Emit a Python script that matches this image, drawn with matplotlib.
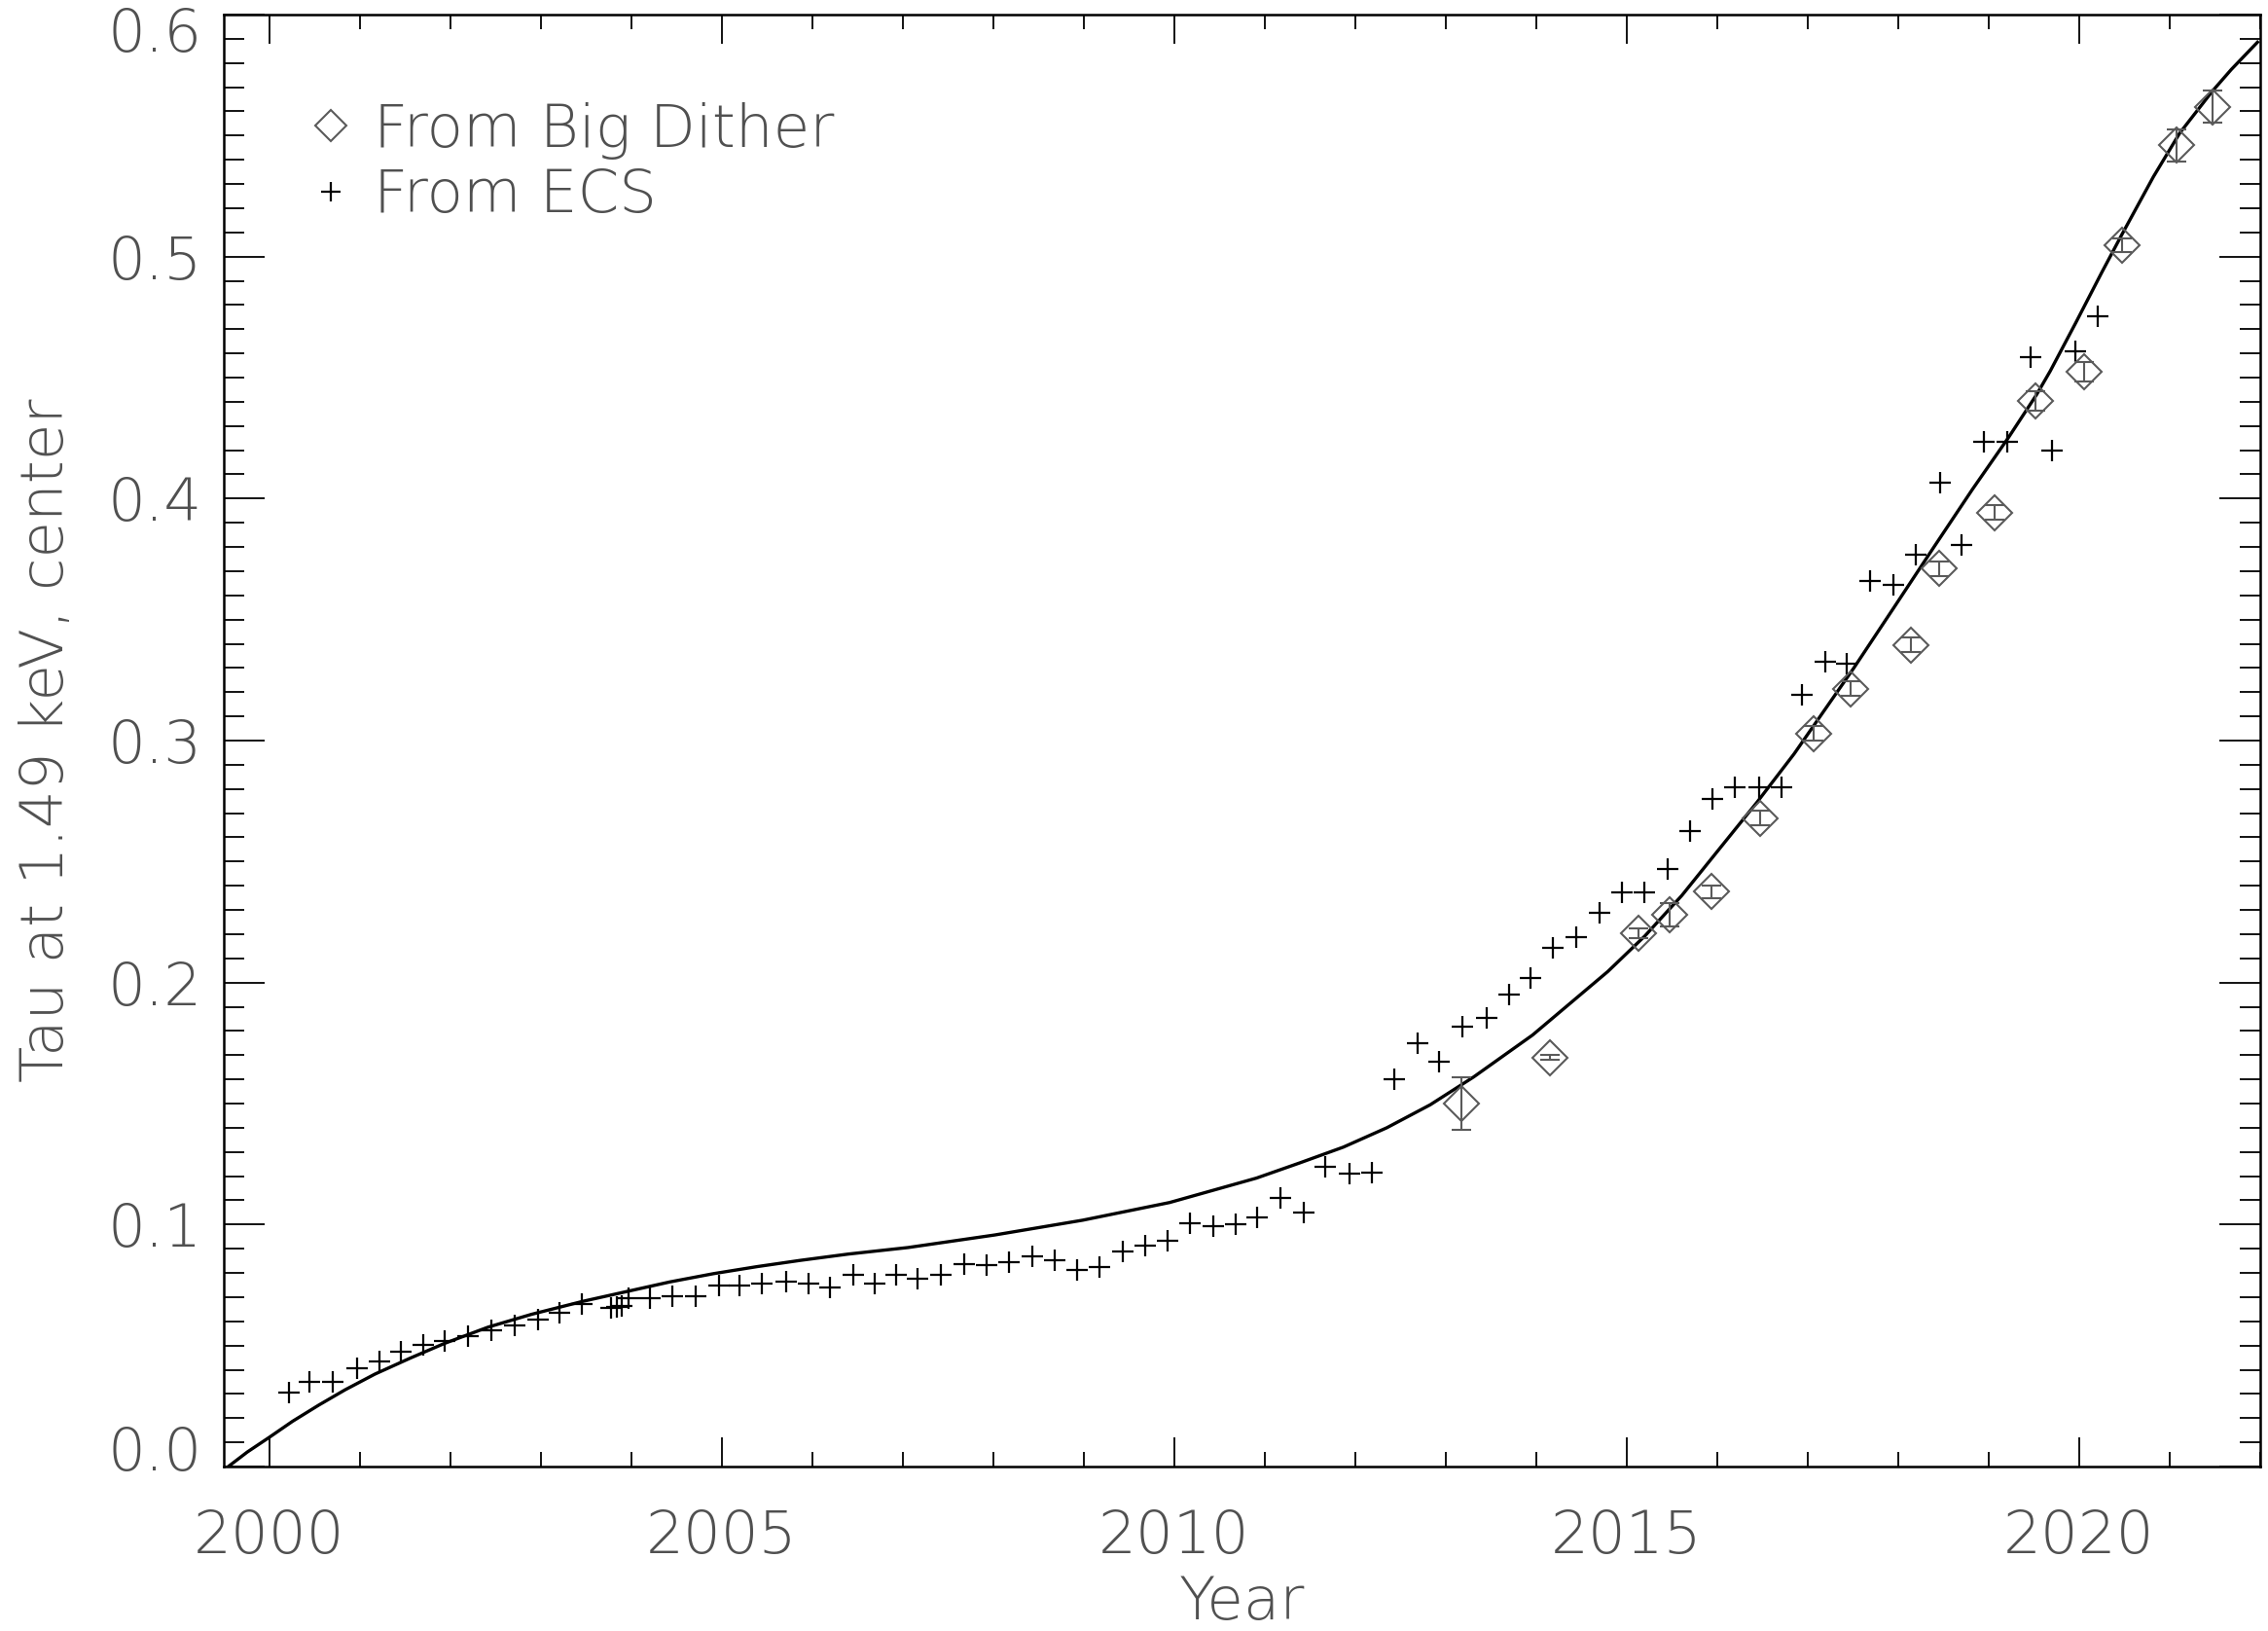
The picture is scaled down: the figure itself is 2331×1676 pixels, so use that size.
import matplotlib
matplotlib.use("Agg")
import matplotlib.pyplot as plt
import matplotlib.transforms as mtransforms
from matplotlib.lines import Line2D
from matplotlib.ticker import MultipleLocator

ecs_year = [2000.22, 2000.45, 2000.70, 2000.97, 2001.22, 2001.46, 2001.70, 2001.94,
            2002.20, 2002.46, 2002.71, 2002.97, 2003.21, 2003.46, 2003.78, 2003.84,
            2003.90, 2003.97, 2004.21, 2004.46, 2004.71, 2004.97, 2005.20, 2005.45,
            2005.71, 2005.96, 2006.20, 2006.46, 2006.69, 2006.93, 2007.17, 2007.42,
            2007.68, 2007.93, 2008.18, 2008.43, 2008.68, 2008.93, 2009.18, 2009.43,
            2009.68, 2009.93, 2010.18, 2010.43, 2010.68, 2010.92, 2011.18, 2011.43,
            2011.67, 2011.94, 2012.18, 2012.43, 2012.69, 2012.93, 2013.19, 2013.45,
            2013.70, 2013.94, 2014.19, 2014.44, 2014.70, 2014.95, 2015.20, 2015.45,
            2015.70, 2015.95, 2016.20, 2016.46, 2016.71, 2016.94, 2017.19, 2017.43,
            2017.69, 2017.95, 2018.19, 2018.46, 2018.70, 2018.95, 2019.20, 2019.46,
            2019.70, 2019.96, 2020.21]
ecs_tau = [0.0304, 0.0348, 0.0348, 0.0408, 0.0435, 0.0473, 0.0502, 0.0518,
           0.0539, 0.0562, 0.0582, 0.0606, 0.0636, 0.0673, 0.0655, 0.0660,
           0.0665, 0.0695, 0.0696, 0.0705, 0.0705, 0.0750, 0.0746, 0.0756,
           0.0763, 0.0756, 0.0738, 0.0792, 0.0756, 0.0792, 0.0776, 0.0792,
           0.0836, 0.0832, 0.0845, 0.0870, 0.0853, 0.0814, 0.0823, 0.0890,
           0.0913, 0.0931, 0.1004, 0.0994, 0.1002, 0.1029, 0.1109, 0.1051,
           0.1239, 0.1212, 0.1216, 0.1602, 0.1751, 0.1673, 0.1816, 0.1853,
           0.1951, 0.2018, 0.2145, 0.2186, 0.2290, 0.2373, 0.2373, 0.2470,
           0.2626, 0.2760, 0.2806, 0.2806, 0.2806, 0.3190, 0.3327, 0.3316,
           0.3658, 0.3642, 0.3767, 0.4065, 0.3807, 0.4233, 0.4233, 0.4583,
           0.4199, 0.4610, 0.4752]

# Big Dither measurements with errors
bd_year = [2013.17, 2014.15, 2015.13, 2015.48, 2015.94, 2016.47, 2017.07, 2017.47,
           2018.14, 2018.45, 2019.07, 2019.52, 2020.05, 2020.47, 2021.08, 2021.47]
bd_tau = [0.1500, 0.1690, 0.2205, 0.2280, 0.2375, 0.2680, 0.3030, 0.3215,
          0.3395, 0.3710, 0.3942, 0.4402, 0.4523, 0.5047, 0.5460, 0.5619]
bd_err = [0.0108, 0.0010, 0.0020, 0.0050, 0.0025, 0.0030, 0.0030, 0.0030,
          0.0030, 0.0030, 0.0030, 0.0040, 0.0040, 0.0030, 0.0067, 0.0067]

# fitted curve, sampled off the plot
fit_year = [1999.55, 1999.76, 2000.00, 2000.26, 2000.55, 2000.84, 2001.17, 2001.56,
            2001.94, 2002.42, 2002.90, 2003.47, 2003.95, 2004.43, 2004.91, 2005.39,
            2005.87, 2006.40, 2007.06, 2008.02, 2008.99, 2009.95, 2010.91, 2011.39,
            2011.87, 2012.35, 2012.83, 2013.31, 2013.96, 2014.79, 2015.20, 2015.61,
            2016.03, 2016.44, 2016.85, 2017.06, 2017.51, 2017.95, 2018.39, 2018.82,
            2019.22, 2019.53, 2019.68, 2019.96, 2020.25, 2020.47, 2020.82, 2021.11,
            2021.47, 2021.68, 2021.97]
fit_tau = [0.0000, 0.0060, 0.0120, 0.0187, 0.0254, 0.0317, 0.0382, 0.0448,
           0.0509, 0.0576, 0.0629, 0.0683, 0.0723, 0.0763, 0.0797, 0.0826,
           0.0852, 0.0878, 0.0905, 0.0957, 0.1018, 0.1091, 0.1192, 0.1255,
           0.1320, 0.1400, 0.1495, 0.1610, 0.1783, 0.2045, 0.2192, 0.2360,
           0.2555, 0.2745, 0.2945, 0.3058, 0.3300, 0.3548, 0.3797, 0.4038,
           0.4253, 0.4430, 0.4527, 0.4725, 0.4935, 0.5090, 0.5330, 0.5510,
           0.5683, 0.5773, 0.5886]

xticks = [2000, 2005, 2010, 2015, 2020]
yticks = [0.0, 0.1, 0.2, 0.3, 0.4, 0.5, 0.6]
ytick_labels = ["0.0", "0.1", "0.2", "0.3", "0.4", "0.5", "0.6"]

plt.rcParams['font.family'] = ['DejaVu Sans']
plt.rcParams['font.weight'] = 'light'
txt = '#505050'
dgray = '#5a5a5a'
fs = 44

fig = plt.figure(figsize=(23.31, 16.76), dpi=100)
ax = fig.add_axes([230 / 2331, 169 / 1676, 2093 / 2331, 1492 / 1676])

ax.plot(fit_year, fit_tau, color='black', lw=2.4, zorder=3)
ax.plot(ecs_year, ecs_tau, ls='none', marker='+', ms=16.5, mew=1.6, color='black', zorder=4)
ax.errorbar(bd_year, bd_tau, yerr=bd_err, fmt='D', ms=18.5, mfc='none', mec=dgray, mew=1.5,
            ecolor=dgray, elinewidth=1.5, capsize=7, capthick=1.5, zorder=4)

ax.set_xlim(1999.5, 2022)
ax.set_ylim(0, 0.6)
ax.set_xticks(xticks)
ax.xaxis.set_minor_locator(MultipleLocator(1))
ax.set_yticks(yticks)
ax.set_yticklabels(ytick_labels)
ax.yaxis.set_minor_locator(MultipleLocator(0.01))

ax.tick_params(which='both', direction='in', top=True, right=True,
               color='black', labelcolor=txt, labelsize=fs)
ax.tick_params(axis='x', which='major', length=21.6, width=1.3, pad=31)
ax.tick_params(axis='x', which='minor', length=10.8, width=1.3)
ax.tick_params(axis='y', which='major', length=30, width=1.3, pad=16)
ax.tick_params(axis='y', which='minor', length=15, width=1.3)
for sp in ax.spines.values():
    sp.set_linewidth(1.8)

# IDL pulls the end labels inside the frame
yt = ax.yaxis.get_major_ticks()
yt[0].label1.set_transform(yt[0].label1.get_transform() +
                           mtransforms.ScaledTranslation(0, 14 / 72, fig.dpi_scale_trans))
yt[-1].label1.set_transform(yt[-1].label1.get_transform() +
                            mtransforms.ScaledTranslation(0, -11 / 72, fig.dpi_scale_trans))

fig.text(65 / 2331, 1 - 761 / 1676, "Tau at 1.49 keV, center", rotation=90,
         rotation_mode='anchor', ha='center', va='baseline', fontsize=fs, color=txt)
fig.text(1276 / 2331, 12 / 1676, "Year", ha='center', va='baseline', fontsize=fs, color=txt)

handles = [Line2D([], [], ls='none', marker='D', ms=16, mfc='none', mec=dgray, mew=1.5),
           Line2D([], [], ls='none', marker='+', ms=15, mew=1.6, color='black')]
ax.legend(handles, ["From Big Dither", "From ECS"], loc='upper left',
          bbox_to_anchor=(0.0423, 0.940), frameon=False, fontsize=fs, labelcolor=txt,
          handlelength=0.7, handletextpad=0.37, labelspacing=0.14,
          borderaxespad=0, borderpad=0)

fig.savefig("out.png", dpi=100)
